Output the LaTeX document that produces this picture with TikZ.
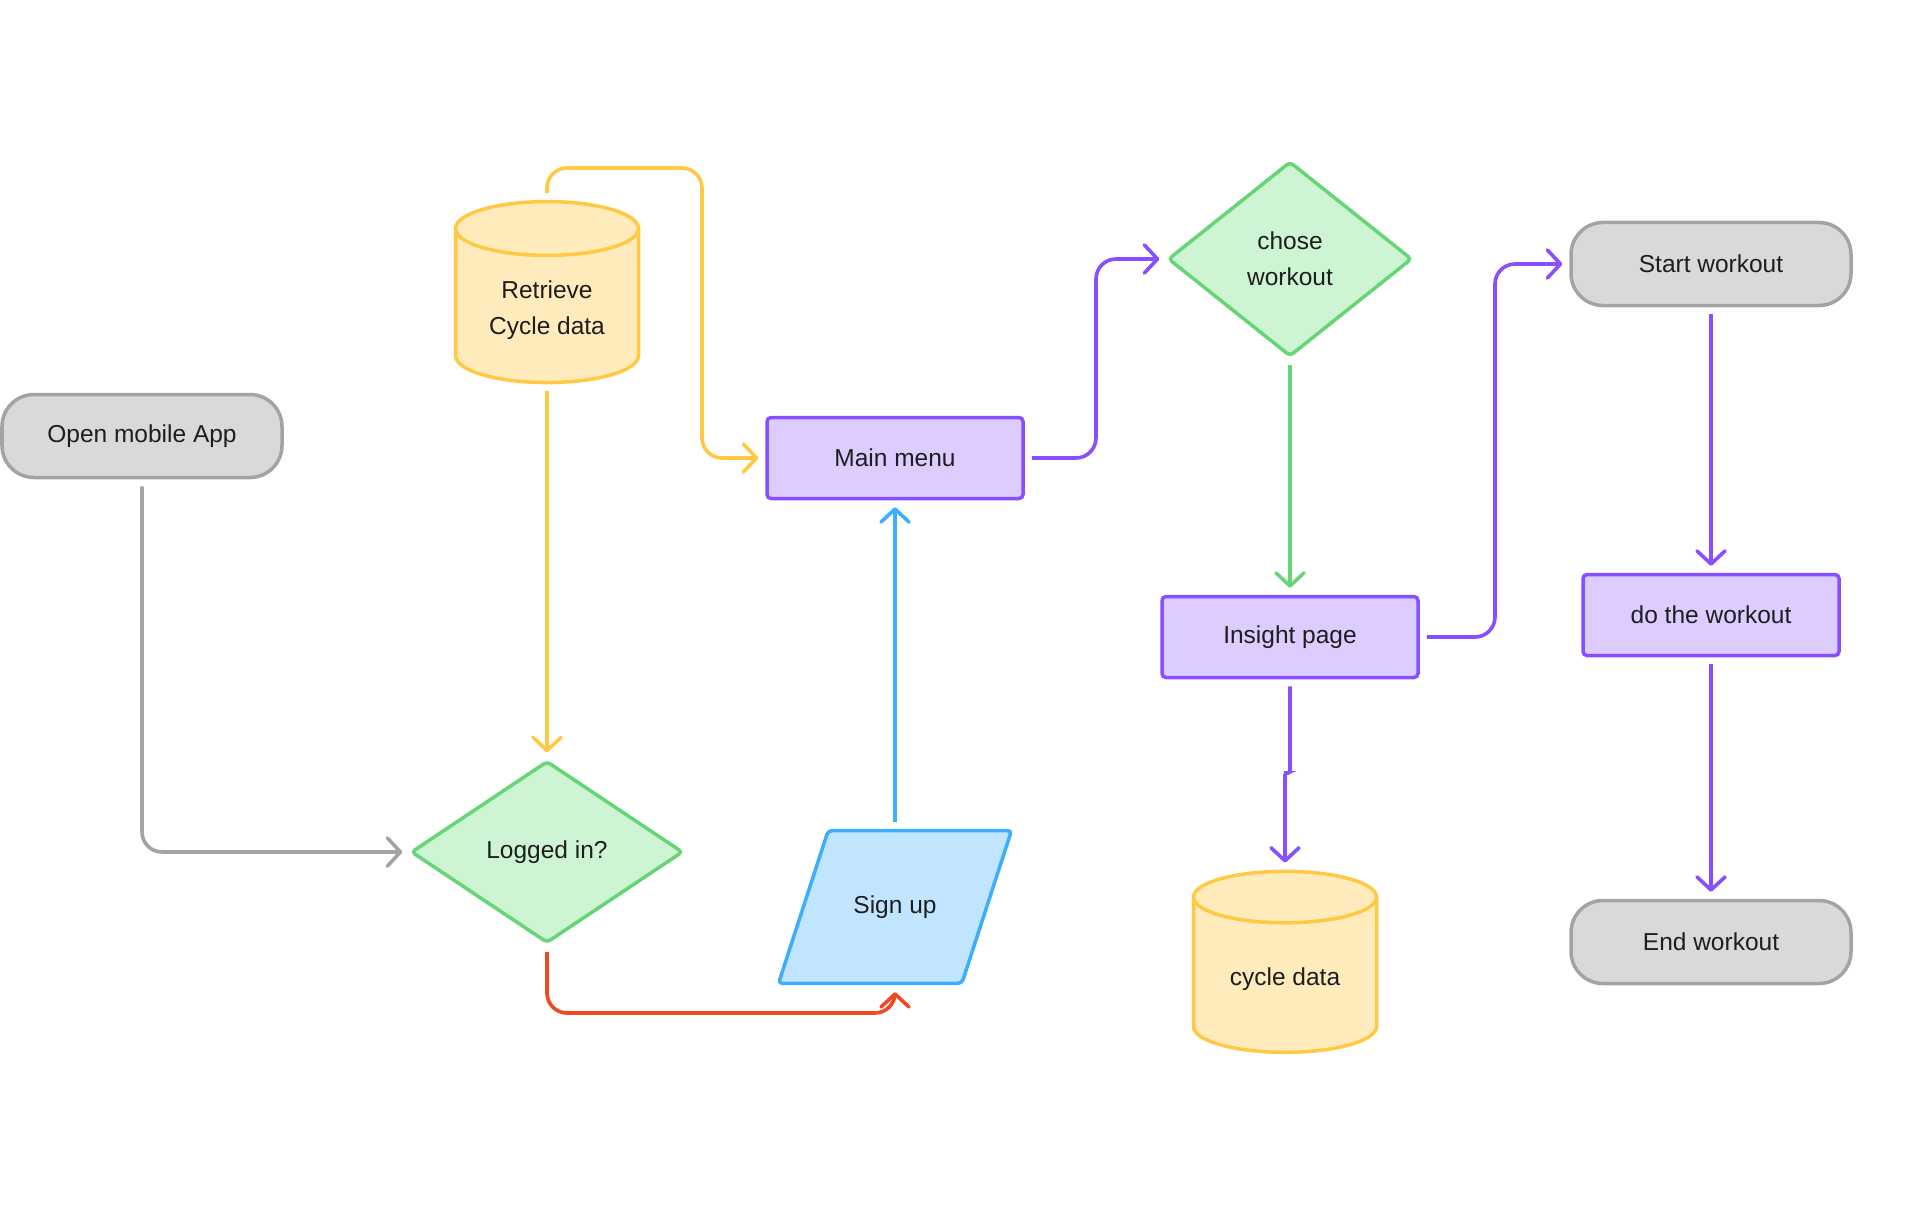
\documentclass[tikz,border=0pt]{standalone}
\usepackage{fontspec}
\setmainfont{Liberation Sans}
\usetikzlibrary{shapes.geometric,arrows.meta}
\definecolor{greyfill}{HTML}{D9D9D9}
\definecolor{greyline}{HTML}{A3A3A3}
\definecolor{yelfill}{HTML}{FFEBBB}
\definecolor{yelline}{HTML}{FFC943}
\definecolor{grnfill}{HTML}{CDF4D3}
\definecolor{grnline}{HTML}{66D575}
\definecolor{purfill}{HTML}{DCCCFF}
\definecolor{purline}{HTML}{874FFF}
\definecolor{blufill}{HTML}{C2E5FF}
\definecolor{bluline}{HTML}{3DADFF}
\definecolor{redline}{HTML}{F24822}
\definecolor{ink}{HTML}{1E1E1E}

\begin{document}
\begin{tikzpicture}[x=1pt,y=-1pt,
   every node/.style={font=\fontsize{24.5}{36}\selectfont,text=ink,align=center,line width=3.5pt},
   term/.style={draw=greyline,fill=greyfill,rounded corners=32pt,minimum width=280pt,minimum height=83pt},
   proc/.style={draw=purline,fill=purfill,rounded corners=4pt,minimum width=256pt,minimum height=81pt},
   store/.style={cylinder,shape border rotate=90,aspect=0.44,draw=yelline,fill=yelfill,minimum width=183pt,minimum height=181pt},
   choice/.style={diamond,draw=grnline,fill=grnfill,rounded corners=4pt,inner sep=0pt},
   io/.style={trapezium,trapezium left angle=72,trapezium right angle=108,draw=bluline,fill=blufill,rounded corners=4pt,inner ysep=65pt,minimum width=233pt,trapezium stretches body},
   link/.style={line width=3.6pt,rounded corners=20pt,-{Straight Barb[length=13pt,width=28pt,round]},shorten <=7pt,shorten >=7pt}]
   \useasboundingbox (0,0) rectangle (1914,1209);

   \node[term]   (open)     at (142,436)  {Open mobile App};
   \node[store]  (retrieve) at (547,310)  {Retrieve\\Cycle data};
   \node[choice,minimum width=272pt,minimum height=182pt] (logged) at (547,852) {Logged in?};
   \node[proc]   (main)     at (895,458)  {Main menu};
   \node[io]     (signup)   at (895,907)  {Sign up};
   \node[choice,minimum width=244pt,minimum height=195pt] (chose) at (1290,259) {chose\\workout};
   \node[proc]   (insight)  at (1290,637) {Insight page};
   \node[store]  (cycle)    at (1285,979) {cycle data};
   \node[term]   (start)    at (1711,264) {Start workout};
   \node[proc]   (do)       at (1711,615) {do the workout};
   \node[term]   (end)      at (1711,942) {End workout};

   \coordinate (ytop) at (702,168);
   \coordinate (rbot) at (700,1013);
   \coordinate (mx)   at (1096,259);
   \coordinate (ix)   at (1495,264);
   \coordinate (jog)  at (1286,773);

   \draw[link,greyline] (open.south) |- (logged.west);
   \draw[link,yelline] (retrieve.bottom) -- (logged.north);
   \draw[link,yelline] (retrieve.top) |- (ytop) |- (main.west);
   \draw[link,redline] (logged.south) |- (rbot) -| (signup);
   \draw[link,bluline] (signup) -- (main);
   \draw[link,purline] (main.east) -| (mx) -- (chose.west);
   \draw[link,grnline] (chose) -- (insight);
   \draw[link,purline] (insight.east) -| (ix) -- (start.west);
   \draw[link,purline,rounded corners=2pt] (insight.south) |- (jog) -| (cycle.top);
   \draw[link,purline] (start) -- (do);
   \draw[link,purline] (do) -- (end);
\end{tikzpicture}
\end{document}
